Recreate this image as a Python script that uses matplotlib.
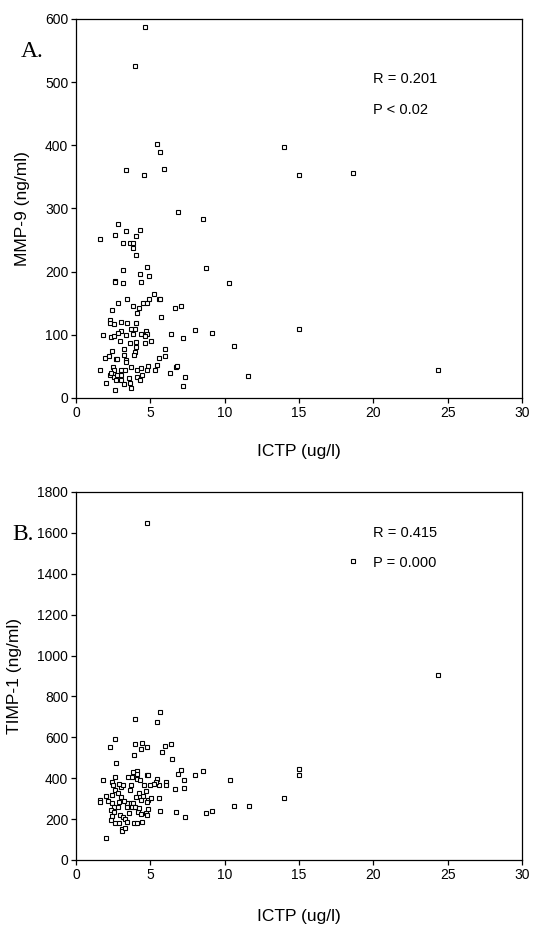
import matplotlib
matplotlib.use("Agg")
import matplotlib.pyplot as plt

# Panel A: ICTP vs MMP-9
ictp_a = [4.63, 3.95, 5.45, 5.66, 3.35, 4.54, 5.93, 13.96, 14.99, 18.66,
          6.84, 8.53, 2.81, 1.62, 2.6, 3.33, 4.33, 4.04, 3.13, 3.63,
          3.83, 3.83, 4.04, 3.15, 4.77, 4.31, 4.88, 8.72, 2.6, 2.6,
          3.15, 4.34, 10.27, 5.25, 5.55, 5.64, 4.88, 3.42, 2.81, 2.4,
          4.52, 4.75, 3.81, 4.24, 4.13, 6.69, 7.05, 5.75, 2.28, 2.3,
          2.58, 3.03, 3.4, 4.02, 3.95, 3.67, 3.03, 2.83, 1.8, 2.37,
          2.58, 2.99, 3.38, 3.86, 4.34, 4.7, 4.75, 4.65, 4.61, 5.04,
          3.6, 4.02, 6.36, 7.23, 8.0, 9.12, 10.61, 14.99, 2.4, 3.26,
          4.06, 3.97, 3.9, 3.26, 6.0, 6.0, 1.98, 2.19, 2.67, 2.78,
          3.35, 3.38, 5.55, 5.45, 1.62, 2.46, 2.55, 2.26, 2.35, 2.53,
          3.03, 3.31, 3.03, 2.74, 3.72, 4.11, 4.34, 4.45, 4.86, 4.75,
          5.34, 4.08, 4.31, 3.56, 2.69, 3.06, 2.01, 3.26, 3.63, 3.72,
          2.62, 6.3, 6.73, 6.77, 7.34, 7.23, 11.59, 24.32]
mmp9 = [587, 526, 402, 390, 361, 353, 362, 397, 353, 356,
        294, 283, 276, 252, 258, 264, 266, 257, 245, 245,
        245, 237, 226, 202, 208, 196, 193, 205, 186, 183,
        182, 183, 182, 165, 156, 156, 156, 156, 150, 139,
        151, 150, 146, 143, 134, 142, 145, 129, 124, 118,
        117, 120, 118, 118, 110, 110, 106, 103, 99, 96,
        98, 91, 99, 102, 102, 106, 102, 98, 87, 90,
        87, 89, 102, 95, 107, 103, 82, 110, 75, 77,
        81, 73, 68, 68, 77, 67, 63, 66, 61, 62,
        60, 57, 63, 53, 45, 49, 45, 36, 40, 33,
        44, 44, 36, 37, 49, 45, 48, 37, 51, 45,
        44, 33, 28, 32, 28, 28, 23, 22, 24, 16,
        13, 40, 49, 51, 34, 19, 35, 45]

# Panel B: ICTP vs TIMP-1
ictp_b = [4.75, 18.66, 24.32, 5.68, 5.45, 3.99, 2.65, 2.3, 3.97, 4.43,
          4.79, 4.36, 6.36, 6.0, 5.77, 3.88, 6.48, 2.72, 7.05, 8.53,
          8.0, 6.84, 7.25, 7.25, 6.66, 10.36, 14.99, 14.99, 13.96, 10.61,
          11.61, 9.15, 8.72, 6.73, 7.32, 5.68, 5.57, 5.45, 6.07, 6.07,
          5.57, 5.36, 5.27, 4.75, 4.82, 4.13, 4.13, 3.81, 4.11, 3.74,
          3.47, 4.31, 4.59, 4.7, 4.95, 4.82, 4.77, 5.02, 4.27, 4.5,
          4.06, 3.6, 3.67, 3.03, 3.15, 2.87, 2.65, 2.42, 2.46, 1.8,
          2.05, 1.6, 1.62, 2.14, 2.42, 2.65, 2.83, 2.42, 2.58, 2.35,
          2.58, 2.42, 2.33, 2.6, 2.9, 2.97, 3.15, 3.31, 3.08, 3.08,
          3.29, 2.03, 3.45, 3.58, 3.45, 3.72, 3.86, 3.74, 3.42, 2.85,
          3.93, 4.09, 4.45, 4.17, 4.36, 4.72, 4.79, 4.84, 3.97, 4.27,
          4.34, 3.06, 3.22, 2.92]
timp1 = [1650, 1463, 907, 724, 675, 690, 594, 555, 566, 574,
         555, 545, 568, 558, 530, 512, 495, 473, 442, 434,
         415, 420, 392, 351, 346, 389, 447, 418, 305, 263,
         263, 241, 230, 233, 211, 240, 304, 398, 383, 367,
         367, 379, 372, 415, 415, 434, 421, 429, 398, 405,
         405, 389, 367, 338, 367, 294, 286, 305, 326, 315,
         310, 343, 367, 356, 367, 370, 408, 382, 367, 389,
         313, 294, 282, 289, 318, 343, 326, 277, 261, 245,
         233, 215, 196, 180, 180, 220, 212, 199, 150, 143,
         155, 109, 188, 228, 281, 281, 277, 258, 261, 261,
         183, 180, 184, 237, 225, 228, 219, 248, 261, 253,
         294, 310, 290, 286]

plt.rcParams['font.family'] = ['Liberation Sans', 'DejaVu Sans']

fig = plt.figure(figsize=(5.33, 9.26), dpi=100)
ax1 = fig.add_axes([0.1426, 0.5702, 0.8368, 0.4093])
ax2 = fig.add_axes([0.1426, 0.0713, 0.8368, 0.3974])

marker_style = dict(marker='s', linestyle='none', markersize=3.5,
                    markerfacecolor='white', markeredgecolor='black',
                    markeredgewidth=0.8)

ax1.plot(ictp_a, mmp9, **marker_style)
ax1.set_xlim(0, 30)
ax1.set_ylim(0, 600)
ax1.set_yticks(range(0, 601, 100))
ax1.set_ylabel('MMP-9 (ng/ml)', fontsize=12.5)
ax1.set_xlabel('ICTP (ug/l)', fontsize=12.5)
ax1.yaxis.set_label_coords(-0.103, 0.5)
ax1.xaxis.set_label_coords(0.5, -0.122)
ax1.text(0.667, 0.842, 'R = 0.201', transform=ax1.transAxes, fontsize=10.5, va='center')
ax1.text(0.667, 0.760, 'P < 0.02', transform=ax1.transAxes, fontsize=10.5, va='center')
fig.text(0.039, 0.938, 'A.', fontsize=17, family='Liberation Serif')

ax2.plot(ictp_b, timp1, **marker_style)
ax2.set_xlim(0, 30)
ax2.set_ylim(0, 1800)
ax2.set_yticks(range(0, 1801, 200))
ax2.set_ylabel('TIMP-1 (ng/ml)', fontsize=12.5)
ax2.set_xlabel('ICTP (ug/l)', fontsize=12.5)
ax2.yaxis.set_label_coords(-0.121, 0.5)
ax2.xaxis.set_label_coords(0.5, -0.134)
ax2.text(0.667, 0.889, 'R = 0.415', transform=ax2.transAxes, fontsize=10.5, va='center')
ax2.text(0.667, 0.807, 'P = 0.000', transform=ax2.transAxes, fontsize=10.5, va='center')
fig.text(0.024, 0.417, 'B.', fontsize=17, family='Liberation Serif')

for ax in (ax1, ax2):
    ax.set_xticks(range(0, 31, 5))
    for s in ax.spines.values():
        s.set_linewidth(0.9)
    ax.tick_params(direction='out', length=3.5, width=0.9, labelsize=10, pad=2)

fig.savefig('out.png', dpi=100)
